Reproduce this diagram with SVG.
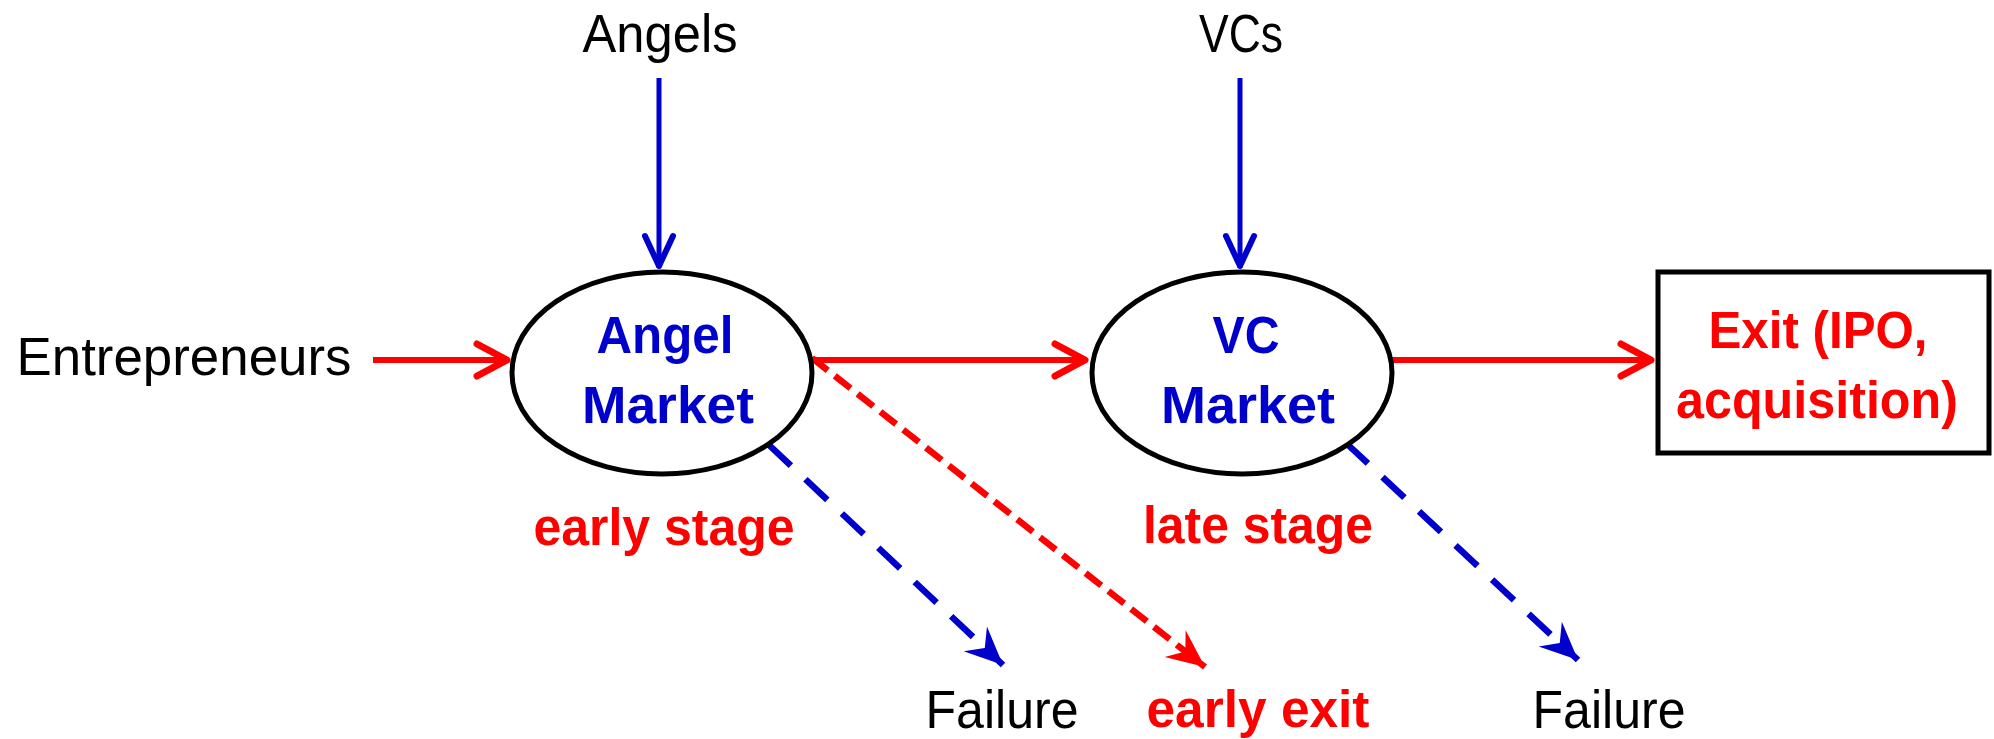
<svg xmlns="http://www.w3.org/2000/svg" width="1994" height="739" viewBox="0 0 1994 739">
<style>
.t{font-family:"Liberation Sans",Arial,sans-serif;font-size:53px;fill:#000;text-anchor:middle}
.bb{font-family:"Liberation Sans",Arial,sans-serif;font-size:51px;font-weight:bold;fill:#0000CC;text-anchor:middle}
.rb{font-family:"Liberation Sans",Arial,sans-serif;font-size:51px;font-weight:bold;fill:#FF0000;text-anchor:middle}
.node{fill:#fff;stroke:#000;stroke-width:5}
.red{stroke:#FF0000;stroke-width:6;fill:none}
.blue{stroke:#0000CC;stroke-width:5;fill:none}
.bd{stroke:#0000CC;stroke-width:6.5;fill:none;stroke-dasharray:30 20}
.rd{stroke:#FF0000;stroke-width:6.5;fill:none;stroke-dasharray:20 9}
</style>
<defs>
<marker id="openRed" markerUnits="userSpaceOnUse" markerWidth="44" markerHeight="44" viewBox="-38 -22 44 44" refX="2" refY="0" orient="auto" overflow="visible">
<path d="M-30,-16 L0,0 L-30,16" fill="none" stroke="#FF0000" stroke-width="7" stroke-linecap="round" stroke-linejoin="round"/>
</marker>
<marker id="openBlue" markerUnits="userSpaceOnUse" markerWidth="44" markerHeight="44" viewBox="-38 -22 44 44" refX="2" refY="0" orient="auto" overflow="visible">
<path d="M-30,-14 L0,0 L-30,14" fill="none" stroke="#0000CC" stroke-width="6" stroke-linecap="round" stroke-linejoin="round"/>
</marker>
<marker id="stealthBlue" markerUnits="userSpaceOnUse" markerWidth="44" markerHeight="44" viewBox="-40 -22 44 44" refX="0" refY="0" orient="auto" overflow="visible">
<path d="M0,0 L-38,-17 L-25,0 L-38,17 Z" fill="#0000CC"/>
</marker>
<marker id="stealthRed" markerUnits="userSpaceOnUse" markerWidth="44" markerHeight="44" viewBox="-40 -22 44 44" refX="0" refY="0" orient="auto" overflow="visible">
<path d="M0,0 L-38,-17 L-25,0 L-38,17 Z" fill="#FF0000"/>
</marker>
</defs>
<rect width="1994" height="739" fill="#fff"/>
<g id="connectors">
<line class="blue" x1="659" y1="78" x2="659" y2="268" marker-end="url(#openBlue)"/>
<line class="blue" x1="1240" y1="78" x2="1240" y2="268" marker-end="url(#openBlue)"/>
<line class="red" x1="373" y1="360" x2="509" y2="360" marker-end="url(#openRed)"/>
<line class="red" x1="812" y1="360" x2="1087" y2="360" marker-end="url(#openRed)"/>
<line class="red" x1="1391" y1="360" x2="1653" y2="360" marker-end="url(#openRed)"/>
<line class="bd" x1="769" y1="445" x2="1003" y2="665" marker-end="url(#stealthBlue)"/>
<line class="rd" x1="812" y1="358" x2="1205" y2="667" marker-end="url(#stealthRed)"/>
<line class="bd" x1="1346" y1="443" x2="1578" y2="660" marker-end="url(#stealthBlue)"/>
</g>
<g id="angels"><text class="t" x="660" y="52" textLength="155" lengthAdjust="spacingAndGlyphs">Angels</text></g>
<g id="vcs"><text class="t" x="1241" y="52" textLength="84" lengthAdjust="spacingAndGlyphs">VCs</text></g>
<g id="entrepreneurs"><text class="t" x="184" y="375" textLength="335" lengthAdjust="spacingAndGlyphs">Entrepreneurs</text></g>
<g id="angel-market">
<ellipse class="node" cx="662" cy="373" rx="150" ry="101"/>
<text class="bb" x="665" y="353" textLength="137" lengthAdjust="spacingAndGlyphs">Angel</text>
<text class="bb" x="668" y="423" textLength="172" lengthAdjust="spacingAndGlyphs">Market</text>
</g>
<g id="vc-market">
<ellipse class="node" cx="1242" cy="373" rx="150" ry="101"/>
<text class="bb" x="1246" y="353" textLength="67" lengthAdjust="spacingAndGlyphs">VC</text>
<text class="bb" x="1248" y="423" textLength="174" lengthAdjust="spacingAndGlyphs">Market</text>
</g>
<g id="exit">
<rect class="node" x="1658" y="272" width="331" height="181"/>
<text class="rb" x="1818" y="348" textLength="219" lengthAdjust="spacingAndGlyphs">Exit (IPO,</text>
<text class="rb" x="1817" y="418" textLength="282" lengthAdjust="spacingAndGlyphs">acquisition)</text>
</g>
<g id="early-stage"><text class="rb" x="664" y="545" textLength="261" lengthAdjust="spacingAndGlyphs">early stage</text></g>
<g id="late-stage"><text class="rb" x="1258" y="543" textLength="230" lengthAdjust="spacingAndGlyphs">late stage</text></g>
<g id="failure-1"><text class="t" x="1002" y="728" textLength="153" lengthAdjust="spacingAndGlyphs">Failure</text></g>
<g id="early-exit"><text class="rb" x="1258" y="727" textLength="223" lengthAdjust="spacingAndGlyphs">early exit</text></g>
<g id="failure-2"><text class="t" x="1609" y="728" textLength="153" lengthAdjust="spacingAndGlyphs">Failure</text></g>
</svg>
